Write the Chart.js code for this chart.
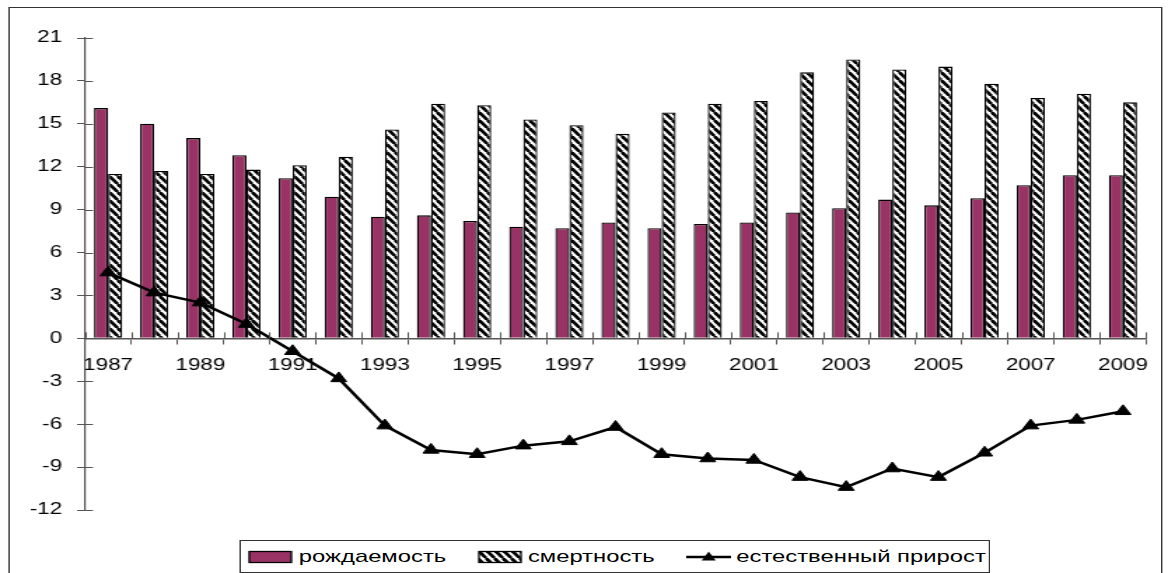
<!DOCTYPE html>
<html>
<head>
<meta charset="utf-8">
<script src="https://cdn.jsdelivr.net/npm/chart.js@4.4.1/dist/chart.umd.min.js"></script>
<style>
  html, body { margin: 0; padding: 0; background: #fff; overflow: hidden; }
  /* the chart is laid out narrow and widened horizontally */
  #wrap { position: absolute; left: 0; top: 0; width: 834px; height: 573px; transform-origin: 0 0; transform: scaleX(1.4005); }
  #frame { position: absolute; left: 5.7px; top: 7px; width: 824.7px; height: 640px; border: 1.5px solid #333; box-sizing: border-box; }
  #chart { position: absolute; left: 0; top: 0; }
  #legend { position: absolute; left: 171.4px; top: 540px; width: 535.5px; height: 33px; border: 1px solid #333; box-sizing: border-box;
            display: flex; align-items: center; justify-content: space-between; padding: 0 2px 0 5px;
            font: 17px Arial, "Liberation Sans", sans-serif; color: #000; background: #fff; }
  #legend span.item { display: flex; align-items: center; gap: 4px; white-space: nowrap; }
</style>
</head>
<body>
<div id="wrap">
  <div id="frame"></div>
  <canvas id="chart" width="834" height="573"></canvas>
  <div id="legend"></div>
</div>
<script>
const years = ['1987', '1988', '1989', '1990', '1991', '1992', '1993', '1994', '1995', '1996', '1997', '1998',
               '1999', '2000', '2001', '2002', '2003', '2004', '2005', '2006', '2007', '2008', '2009'];
const birthRate = [16.1, 15.0, 14.0, 12.8, 11.2, 9.9, 8.5, 8.6, 8.2, 7.8, 7.7, 8.1,
                   7.7, 8.0, 8.1, 8.8, 9.1, 9.7, 9.3, 9.8, 10.7, 11.4, 11.4];
const deathRate = [11.5, 11.7, 11.5, 11.8, 12.1, 12.7, 14.6, 16.4, 16.3, 15.3, 14.9, 14.3,
                   15.8, 16.4, 16.6, 18.6, 19.5, 18.8, 19.0, 17.8, 16.8, 17.1, 16.5];
const naturalGrowth = [4.6, 3.2, 2.5, 1.0, -0.9, -2.8, -6.1, -7.8, -8.1, -7.5, -7.2, -6.2,
                       -8.1, -8.4, -8.5, -9.7, -10.4, -9.1, -9.7, -8.0, -6.1, -5.7, -5.1];
const seriesNames = ['рождаемость', 'смертность', 'естественный прирост'];
const yMin = -12, yMax = 21, yStep = 3;

Chart.defaults.font.family = 'Arial, "Liberation Sans", sans-serif';
Chart.defaults.color = '#000';

const PLUM = '#993366';
const AXIS = '#555';

// "\" stripes, black on white (narrow tile so the stripes end up near 45deg once widened)
function hatchCanvas() {
  const w = 6, h = 8;
  const c = document.createElement('canvas');
  c.width = w; c.height = h;
  const g = c.getContext('2d');
  g.fillStyle = '#fff';
  g.fillRect(0, 0, w, h);
  g.strokeStyle = '#000';
  g.lineWidth = 2.6;
  [-w, 0, w].forEach(k => {
    g.beginPath();
    g.moveTo(k, 0);
    g.lineTo(k + w, h);
    g.stroke();
  });
  return c;
}
const ctx = document.getElementById('chart').getContext('2d');
const hatch = ctx.createPattern(hatchCanvas(), 'repeat');

// tick marks that cross the axes (Chart.js only draws the outer half)
const crossTicks = {
  id: 'crossTicks',
  afterDraw(chart) {
    const c = chart.ctx, x = chart.scales.x, y = chart.scales.y;
    c.save();
    c.strokeStyle = AXIS;
    c.lineWidth = 1;
    c.beginPath();
    y.ticks.forEach((t, i) => {
      const py = Math.round(y.getPixelForTick(i)) + 0.5;
      c.moveTo(y.right, py);
      c.lineTo(y.right + 5.7, py);
    });
    const zero = y.getPixelForValue(0);
    for (let i = 0; i <= years.length; i++) {
      const px = Math.round(x.getPixelForValue(i - 0.5)) + 0.5;
      c.moveTo(px, zero);
      c.lineTo(px, zero - 6);
    }
    c.stroke();
    c.restore();
  }
};

const chart = new Chart(ctx, {
  data: {
    labels: years,
    datasets: [{
      type: 'bar',
      label: seriesNames[0],
      data: birthRate,
      backgroundColor: PLUM,
      borderColor: '#000',
      borderWidth: 1.3,
      categoryPercentage: 0.61,
      barPercentage: 1.0,
      order: 2
    }, {
      type: 'bar',
      label: seriesNames[1],
      data: deathRate,
      backgroundColor: hatch,
      borderColor: '#000',
      borderWidth: 1.3,
      categoryPercentage: 0.61,
      barPercentage: 1.0,
      order: 2
    }, {
      type: 'line',
      label: seriesNames[2],
      data: naturalGrowth,
      borderColor: '#000',
      borderWidth: 2.5,
      pointStyle: 'triangle',
      pointRadius: 6.5,
      pointBackgroundColor: '#000',
      pointBorderColor: '#000',
      pointBorderWidth: 1,
      tension: 0,
      order: 1
    }]
  },
  options: {
    responsive: false,
    devicePixelRatio: 1,
    animation: false,
    layout: { padding: { top: 38, bottom: 63, left: 0, right: 15.7 } },
    plugins: { legend: { display: false }, tooltip: { enabled: false } },
    scales: {
      x: {
        type: 'category',
        position: { y: 0 },
        offset: true,
        grid: { drawOnChartArea: false, tickLength: 5, color: AXIS, lineWidth: 1 },
        border: { color: AXIS, width: 1.5 },
        ticks: {
          autoSkip: false,
          maxRotation: 0,
          padding: 13,
          font: { size: 16 },
          callback: function(value, index) {
            return index % 2 === 0 ? this.getLabelForValue(value) : '';
          }
        },
        afterFit(scale) { scale.height = 0; }
      },
      y: {
        min: yMin,
        max: yMax,
        grid: { drawOnChartArea: false, tickLength: 5.7, color: AXIS, lineWidth: 1 },
        border: { color: AXIS, width: 1.2 },
        ticks: { stepSize: yStep, padding: 10.7, font: { size: 16 } },
        afterFit(scale) { scale.width = 60.7; }
      }
    }
  },
  plugins: [crossTicks]
});

// legend built from the datasets
function swatch(kind) {
  const c = document.createElement('canvas');
  c.width = 32; c.height = 14;
  const g = c.getContext('2d');
  if (kind === 'line') {
    g.strokeStyle = '#000';
    g.lineWidth = 2.5;
    g.beginPath(); g.moveTo(0, 7); g.lineTo(32, 7); g.stroke();
    g.fillStyle = '#000';
    g.beginPath(); g.moveTo(16, 1.5); g.lineTo(21, 10.5); g.lineTo(11, 10.5); g.closePath(); g.fill();
  } else {
    g.fillStyle = kind === 'hatch' ? g.createPattern(hatchCanvas(), 'repeat') : PLUM;
    g.fillRect(1, 1.5, 30, 11);
    g.strokeStyle = '#000';
    g.lineWidth = 1.3;
    g.strokeRect(1, 1.5, 30, 11);
  }
  return c;
}
const legend = document.getElementById('legend');
const kinds = ['plum', 'hatch', 'line'];
chart.data.datasets.forEach((ds, i) => {
  const item = document.createElement('span');
  item.className = 'item';
  item.appendChild(swatch(kinds[i]));
  const t = document.createElement('span');
  t.textContent = ds.label;
  item.appendChild(t);
  legend.appendChild(item);
});
</script>
</body>
</html>
